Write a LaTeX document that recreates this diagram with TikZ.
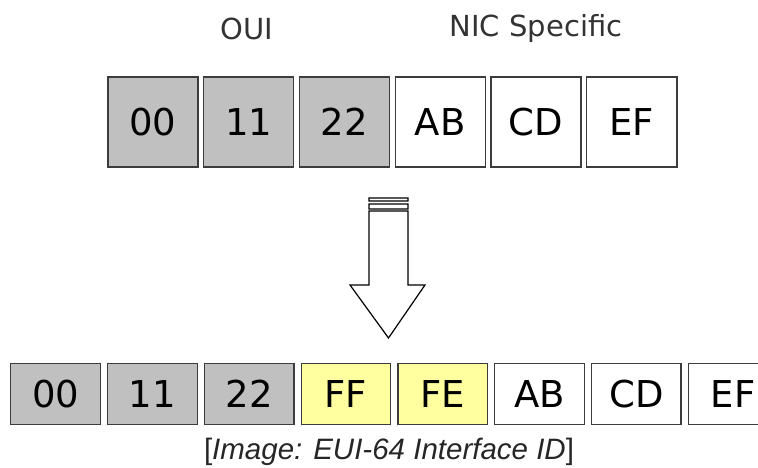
\documentclass[tikz,border=0pt]{standalone}
\usepackage{fontspec}
\setmainfont{DejaVu Sans}
\newfontfamily\capfont{Liberation Sans}
\usetikzlibrary{matrix,positioning}
\definecolor{ouigray}{RGB}{192,192,192}
\definecolor{padyellow}{RGB}{255,255,160}
\definecolor{edgegray}{RGB}{60,60,60}
\tikzset{
  byte/.style={draw=edgegray, line width=1.3pt, inner sep=0pt, outer sep=0pt,
    font=\fontsize{37}{40}\selectfont},
  oui/.style={byte, fill=ouigray},
  nic/.style={byte, fill=white},
  pad/.style={byte, fill=padyellow},
  part/.style={font=\fontsize{29}{32}\selectfont, text=black!80},
}

\begin{document}
\begin{tikzpicture}[x=1pt,y=1pt]
\useasboundingbox (0,0) rectangle (758,468);
\clip (0,0) rectangle (758,468);
\matrix[
  matrix of nodes,
  column sep=4.5pt,
  inner sep=0pt,
  anchor=west,
  nodes={minimum width=90pt, minimum height=90pt},
] (mac) at (107,346)
{
|[oui]| 00 & |[oui]| 11 & |[oui]| 22 & |[nic]| AB & |[nic]| CD & |[nic]| EF \\
};
\node[part] (oui) at (247,439) {OUI};
\node[part] (nicspec) at (536,439) {NIC Specific};
\matrix[
  matrix of nodes,
  column sep=6pt,
  inner sep=0pt,
  anchor=west,
  nodes={minimum width=89.5pt, minimum height=61pt, draw=black!60},
] (eui) at (10,74)
{
|[oui]| 00 & |[oui]| 11 & |[oui]| 22 & |[pad]| FF & |[pad]| FE & |[nic]| AB & |[nic]| CD & |[nic]| EF \\
};
\draw[line width=1.2pt, fill=white]
  (369,270) rectangle (408,267)
  (369,264) rectangle (408,259)
  (369,257) -- (369,183) -- (350,183) -- (388.5,130) -- (425,183) -- (408,183) -- (408,257) -- cycle;
\node[font=\capfont\fontsize{29.5}{31}\selectfont, text=black!85] (caption) at (389,16)
  {[\textit{Image: EUI-64 Interface ID}]};
\end{tikzpicture}
\end{document}
